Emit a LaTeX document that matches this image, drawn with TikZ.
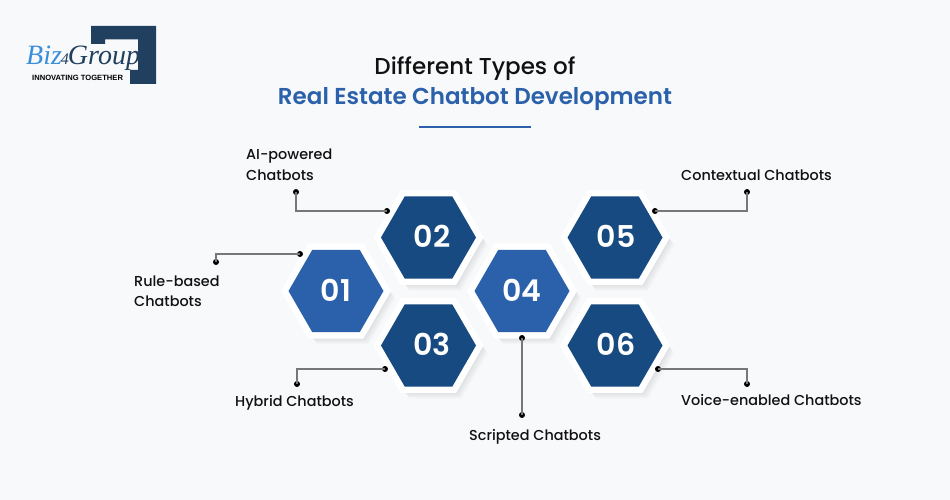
\documentclass[tikz,border=0pt]{standalone}
\usepackage{fontspec}
\setmainfont{Poppins}[UprightFont=* Medium,BoldFont=* SemiBold]
\newfontfamily\logofont{Liberation Serif}
\newfontfamily\logosans{Liberation Sans}
\usetikzlibrary{shapes.geometric}
\definecolor{bgc}{HTML}{F8F9FB}
\definecolor{light}{HTML}{2B61AB}
\definecolor{dark}{HTML}{174A80}
\definecolor{navy}{HTML}{213F5F}
\definecolor{logoblue}{HTML}{3A8FDC}
\definecolor{linec}{HTML}{777777}
\definecolor{inkc}{HTML}{111111}
\tikzset{
 hexbase/.style={regular polygon,regular polygon sides=6,inner sep=0pt,outer sep=0pt},
 hexcore/.style={hexbase,minimum size=95pt},
 hexrim/.style={hexbase,minimum size=110pt,fill=white},
 hexshade/.style={hexbase,minimum size=104pt,fill=black,fill opacity=0.016},
 numtext/.style={inner sep=0pt,text=white,font=\bfseries\fontsize{30}{30}\selectfont},
 pin/.style={circle,fill=black,inner sep=0pt,minimum size=6pt},
 wire/.style={draw=linec,line width=1.1pt},
 lab/.style={anchor=base west,inner sep=0pt,text=inkc,font=\fontsize{14.4}{14.4}\selectfont},
}
% name, x, y, colour, text, text x
\newcommand{\hexa}[6]{%
 \foreach \k in {1,...,8}{\node[hexshade] at (#2+\k*0.9,#3+\k*1.0) {};}
 \node[hexrim] at (#2,#3) {};
 \node[hexcore,fill=#4] (#1) at (#2,#3) {};
 \node[numtext] (#1t) at (#6,#3-1) {#5};
}
\begin{document}
\begin{tikzpicture}[x=1pt,y=-1pt]
\useasboundingbox (0,0) rectangle (950,500);
\fill[bgc] (0,0) rectangle (950,500);
% logo
\fill[navy] (91,26)--(156,26)--(156,84)--(130,84)--(130,70)--(138,70)--(138,39.5)--(105,39.5)--(105,44)--(91,44)--cycle;
\node[inner sep=0pt,anchor=base west,font=\logofont\itshape\fontsize{28}{28}\selectfont] (logo) at (26,65) {\textcolor{logoblue}{Biz}\textcolor{navy}{\fontsize{16}{16}\selectfont\kern-1pt 4\kern-1pt}\textcolor{navy}{Group}};
\node[inner sep=0pt,anchor=base west,text=black,font=\logosans\bfseries\fontsize{7.6}{7.6}\selectfont] (tag) at (32,81) {INNOVATING TOGETHER};
% title
\node[inner sep=0pt,anchor=center,text=inkc,font=\fontsize{23}{23}\selectfont] (t1) at (475,68.5) {Different Types of};
\node[inner sep=0pt,anchor=center,text=light,font=\bfseries\fontsize{23}{23}\selectfont] (t2) at (475,99.5) {Real Estate Chatbot Development};
\coordinate (ua) at (419,127); \coordinate (ub) at (531,127);
\draw[light,line width=2pt] (ua)--(ub);
% hexagons
\hexa{h1}{336}{291}{light}{01}{336}
\hexa{h2}{428.5}{237.5}{dark}{02}{432}
\hexa{h3}{428.5}{345.5}{dark}{03}{432}
\hexa{h4}{522}{291}{light}{04}{522}
\hexa{h5}{615}{237.5}{dark}{05}{616}
\hexa{h6}{615}{345.5}{dark}{06}{616}
% pins
\node[pin] (a1) at (216,262) {}; \node[pin] (b1) at (300,254) {};
\node[pin] (a2) at (296,192) {}; \node[pin] (b2) at (387,211) {};
\node[pin] (a3) at (297,384) {}; \node[pin] (b3) at (385,369) {};
\node[pin] (a4) at (522,415) {}; \node[pin] (b4) at (522,338) {};
\node[pin] (a5) at (747,192) {}; \node[pin] (b5) at (655,211) {};
\node[pin] (a6) at (747,384) {}; \node[pin] (b6) at (658,369) {};
\draw[wire] (a1.center)|-(b1.center);
\draw[wire] (a2.center)|-(b2.center);
\draw[wire] (a3.center)|-(b3.center);
\draw[wire] (a4.center)--(b4.center);
\draw[wire] (a5.center)|-(b5.center);
\draw[wire] (a6.center)|-(b6.center);
% labels
\node[lab] (l2a) at (246,160) {AI-powered};
\node[lab] (l2b) at (246,180) {Chatbots};
\node[lab] (l1a) at (134,286) {Rule-based};
\node[lab] (l1b) at (134,306) {Chatbots};
\node[lab] (l3) at (235,406) {Hybrid Chatbots};
\node[lab] (l4) at (469,440) {Scripted Chatbots};
\node[lab] (l5) at (681,180) {Contextual Chatbots};
\node[lab] (l6) at (681,405) {Voice-enabled Chatbots};
\end{tikzpicture}
\end{document}
